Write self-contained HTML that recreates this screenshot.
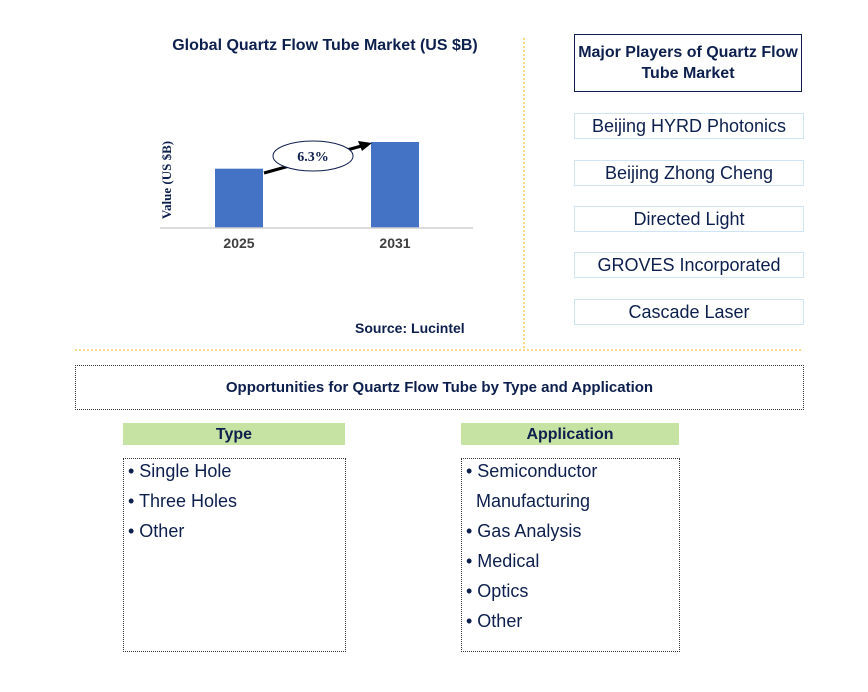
<!DOCTYPE html>
<html><head><meta charset="utf-8">
<style>
body{margin:0;width:868px;height:692px;background:#fff;font-family:"Liberation Sans",sans-serif;position:relative;overflow:hidden}
.abs{position:absolute}
.player{position:absolute;left:574px;width:228px;height:24px;border:1px solid #cfe5f3;color:#0d1f4d;font-size:18px;text-align:center;line-height:24px}
.list{position:absolute;border:1px dotted #333;font-size:18px;color:#0d1f4d;line-height:30px;box-sizing:border-box}
.hdr{position:absolute;height:22px;background:#c6e3a3;color:#0d1f4d;font-weight:bold;font-size:16px;text-align:center;line-height:24px}
</style></head><body>
<div class="abs" style="left:140px;top:37px;width:370px;text-align:center;font-weight:bold;font-size:16px;color:#0d1f4d">Global Quartz Flow Tube Market (US $B)</div>
<svg class="abs" style="left:0;top:0" width="868" height="692">
<g id="bars"></g>
<line x1="160" y1="228" x2="473" y2="228" stroke="#d0d0d0" stroke-width="1.5"/>
<text x="171" y="180" transform="rotate(-90 171 180)" text-anchor="middle" font-family="Liberation Serif" font-weight="bold" font-size="13" fill="#0d1f4d">Value (US $B)</text>
<line x1="264" y1="173" x2="365" y2="145" stroke="#000" stroke-width="3"/>
<polygon points="372,143 358,141 362,151" fill="#000"/>
<ellipse cx="313" cy="156" rx="40" ry="15" fill="#fff" stroke="#0d1f4d"/>
<text x="313" y="161" text-anchor="middle" font-family="Liberation Serif" font-weight="bold" font-size="14" fill="#0d1f4d">6.3%</text>
<line x1="524" y1="38" x2="524" y2="348" stroke="#f0b400" stroke-dasharray="2,2"/>
<line x1="75" y1="350" x2="803" y2="350" stroke="#f0b400" stroke-dasharray="2,2"/>
</svg>
<div class="abs" style="left:355px;top:320px;font-weight:bold;font-size:14px;color:#0d1f4d">Source: Lucintel</div>
<div class="abs" style="left:574px;top:34px;width:226px;height:56px;border:1.5px solid #0d1f4d;font-weight:bold;font-size:16px;color:#0d1f4d;text-align:center;display:flex;align-items:center;justify-content:center;line-height:21px">Major Players of Quartz Flow Tube Market</div>
<div class="player" style="top:113px">Beijing HYRD Photonics</div>
<div class="player" style="top:160px">Beijing Zhong Cheng</div>
<div class="player" style="top:206px">Directed Light</div>
<div class="player" style="top:252px">GROVES Incorporated</div>
<div class="player" style="top:299px">Cascade Laser</div>
<div class="abs" style="left:75px;top:365px;width:727px;height:43px;border:1px dotted #333;font-weight:bold;font-size:15px;color:#0d1f4d;text-align:center;line-height:43px">Opportunities for Quartz Flow Tube by Type and Application</div>
<div class="hdr" style="left:123px;top:423px;width:222px">Type</div>
<div class="hdr" style="left:461px;top:423px;width:218px">Application</div>
<div class="list" style="left:123px;top:458px;width:223px;height:194px;padding:0 0 0 4px"><div style="margin-top:-3px">• Single Hole<br>• Three Holes<br>• Other</div></div>
<div class="list" style="left:461px;top:458px;width:219px;height:194px;padding:0 0 0 4px"><div style="margin-top:-3px">• Semiconductor<br>&nbsp; Manufacturing<br>• Gas Analysis<br>• Medical<br>• Optics<br>• Other</div></div>
<script>
const categories=["2025","2031"];
const values=[0.40,0.58];
const yMax=0.58;
const base=228,plotH=86,x0=191,step=156,bw=48;
const y=v=>base-v/yMax*plotH;
const g=document.getElementById('bars');
const NS="http://www.w3.org/2000/svg";
categories.forEach((c,i)=>{
 const r=document.createElementNS(NS,'rect');
 r.setAttribute('x',x0+i*step+24);
 r.setAttribute('y',y(values[i]));
 r.setAttribute('width',bw);
 r.setAttribute('height',base-y(values[i]));
 r.setAttribute('fill','#4472c4');
 
 
 g.appendChild(r);
 const t=document.createElementNS(NS,'text');
 t.setAttribute('x',x0+i*step+48);
 t.setAttribute('y',248);
 t.setAttribute('text-anchor','middle');
 t.setAttribute('font-weight','bold');
 t.setAttribute('font-size','14');
 t.setAttribute('fill','#404040');
 t.textContent=c;
 
 
 g.appendChild(t);
});
</script>
</body></html>
